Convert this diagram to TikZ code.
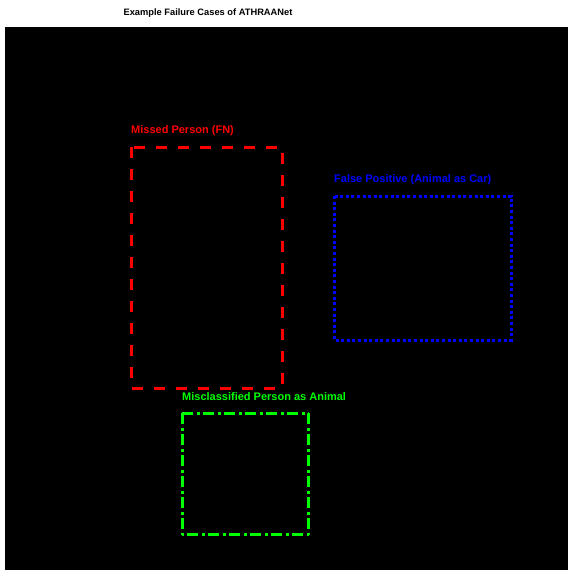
\documentclass[tikz,border=0pt]{standalone}
\usepackage{fontspec}
\setmainfont{Liberation Sans}
\begin{document}
\begin{tikzpicture}[x=1pt,y=-1pt,
  lbl/.style={anchor=base west,inner sep=0pt,font=\bfseries\fontsize{11}{13}\selectfont},
  boxline/.style={line width=3pt}]
\useasboundingbox (0,0) rectangle (568,570);
\fill[white] (0,0) rectangle (568,570);
\fill[black] (5,27) rectangle (568,570);
\node[anchor=base,inner sep=0pt,font=\bfseries\fontsize{9.3}{11}\selectfont] (title) at (208,15) {Example Failure Cases of ATHRAANet};
% red
\draw[boxline,red,dash pattern=on 11pt off 11pt] (131,147) rectangle (282,388);
\node[lbl,text=red] (l1) at (131,133) {Missed Person (FN)};
% blue
\draw[boxline,blue,dash pattern=on 3pt off 2.6pt] (334,196) rectangle (511,340);
\node[lbl,text=blue] (l2) at (334,182) {False Positive (Animal as Car)};
% green
\draw[boxline,green,line join=round,dash pattern=on 11pt off 3.5pt on 3pt off 3.5pt] (182,413) rectangle (308,534);
\node[lbl,text=green] (l3) at (182,400) {Misclassified Person as Animal};
\end{tikzpicture}
\end{document}
